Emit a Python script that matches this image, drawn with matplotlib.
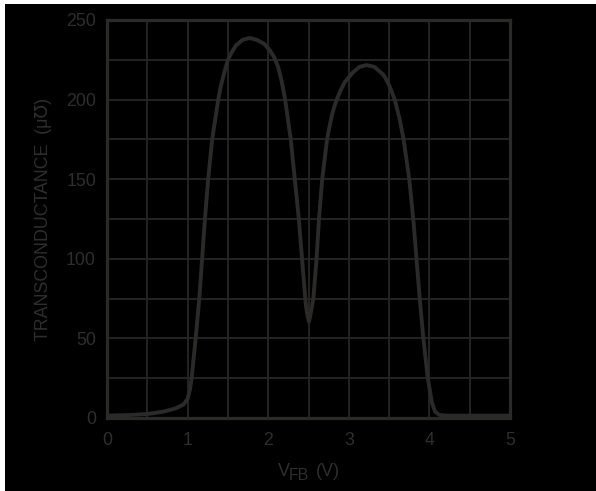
import matplotlib
matplotlib.use("Agg")
import matplotlib.pyplot as plt
from matplotlib.patches import Rectangle

plt.rcParams['font.family'] = ['Liberation Sans', 'DejaVu Sans']

# feedback voltage (V) vs transconductance (umho)
vfb = [0, 0.25, 0.5, 0.7, 0.85, 0.95, 1.00, 1.03, 1.05, 1.10, 1.145, 1.18,
       1.215, 1.255, 1.305, 1.38, 1.41, 1.44, 1.46, 1.50, 1.55, 1.60, 1.68,
       1.77, 1.86, 1.95, 2.02, 2.07, 2.12, 2.17, 2.21, 2.28, 2.33, 2.38,
       2.42, 2.46, 2.47, 2.485, 2.505, 2.525, 2.56, 2.60, 2.63, 2.67, 2.73,
       2.76, 2.79, 2.82, 2.85, 2.90, 2.95, 3.05, 3.13, 3.22, 3.32, 3.42,
       3.45, 3.50, 3.54, 3.57, 3.63, 3.68, 3.75, 3.80, 3.84, 3.88, 3.925,
       3.98, 4.03, 4.07, 4.12, 4.2, 4.5, 5.0]
gm = [1.5, 1.8, 2.5, 4, 6, 8.5, 12, 18, 25, 50, 75, 100,
      125, 150, 175, 200, 208, 214, 218, 225, 230, 234, 237.5,
      238.7, 237.5, 235, 231, 227, 221, 211, 200, 175, 150, 125,
      100, 75, 70, 65, 60.5, 65, 75, 100, 125, 150, 175,
      183, 190, 195.5, 200, 206, 211, 217, 220.5, 221.7, 220.5, 216,
      214, 209, 204, 200, 188, 175, 150, 125, 100, 75, 50,
      25, 10, 4, 2, 1.5, 1.5, 1.5]

xticks = [0, 1, 2, 3, 4, 5]
yticks = [0, 50, 100, 150, 200, 250]

ink = '#2b2a28'
txt = '#2e2e2e'

fig = plt.figure(figsize=(5.96, 4.91), dpi=100, facecolor='white')
fig.patches.append(Rectangle((5 / 596, 0), 1, 487 / 491, transform=fig.transFigure,
                             facecolor='black', edgecolor='none', zorder=-10))

ax = fig.add_axes([107 / 596, 73 / 491, 403 / 596, 398 / 491])
ax.set_facecolor('black')
ax.plot(vfb, gm, color=ink, linewidth=2.8, solid_joinstyle='round', zorder=3)

ax.set_xlim(0, 5)
ax.set_ylim(0, 250)
xgrid = [i * 0.5 for i in range(11)]
ygrid = [i * 25 for i in range(11)]
ax.set_xticks(xgrid)
ax.set_yticks(ygrid)
ax.grid(True, color='#262626', linewidth=1.3)
ax.set_xticklabels([str(int(t)) if t in xticks else '' for t in xgrid])
ax.set_yticklabels([str(t) if t in yticks else '' for t in ygrid])
ax.tick_params(length=0, labelsize=12.8, labelcolor=txt)
ax.tick_params(axis='x', pad=10)
ax.tick_params(axis='y', pad=8)
for s in ax.spines.values():
    s.set_color(ink)
    s.set_linewidth(2.3)

ax.set_ylabel('TRANSCONDUCTANCE  (\u03bc\u2127)', fontsize=12.8, color=txt, labelpad=10)

# x label: V with a large subscript FB, then (V)
H = 491.0
fig.text(277.5 / 596, (H - 476.5) / H, 'V', fontsize=13, color=txt, va='baseline', ha='left')
fig.text(289 / 596, (H - 480.5) / H, 'FB', fontsize=11.5, color=txt, va='baseline', ha='left')
fig.text(316 / 596, (H - 476.5) / H, '(V)', fontsize=13, color=txt, va='baseline', ha='left')

fig.savefig('out.png', dpi=100, facecolor=fig.get_facecolor())
